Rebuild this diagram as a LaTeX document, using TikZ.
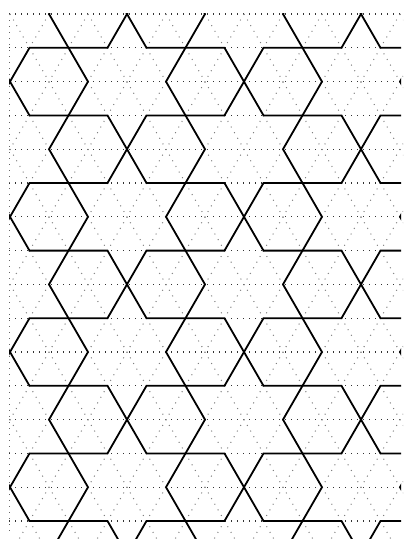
\documentclass[tikz,border=0pt]{standalone}
\begin{document}
\begin{tikzpicture}[x=1pt,y=-1pt,
  hexline/.style={line width=1.8pt,black,line join=miter},
  gridh/.style={line width=1.2pt,black!80,dash pattern=on 1.2pt off 4.8pt},
  gridd/.style={line width=1.0pt,black!50,dash pattern=on 1pt off 5.5pt},
  gridv/.style={line width=1.0pt,black!60,dash pattern=on 1pt off 5pt}]
\useasboundingbox (0,0) rectangle (420,550);
\fill[white] (0,0) rectangle (420,550);
% dotted triangular grid
\begin{scope}
  \clip (8,13) rectangle (403,539);
  \foreach \v in {0,...,15} \draw[gridh] (9,{14+33.8*\v}) -- (403,{14+33.8*\v});
  \draw[gridv] (9,14) -- (9,535);
  \foreach \c in {-18,-16,...,22}
    \draw[gridd] ({10+19.5*(\c-1)},{14-33.8}) -- ({10+19.5*(\c+17)},{14+33.8*17});
  \foreach \c in {0,2,...,38}
    \draw[gridd] ({10+19.5*(\c+1)},{14-33.8}) -- ({10+19.5*(\c-17)},{14+33.8*17});
\end{scope}
% hexagons
\begin{scope}
  \clip (9,13) rectangle (401,538.5);
  \begin{scope}[shift={(10,14)}, x=19.5pt, y=-33.8pt]
    \foreach \v in {0,4,8,12,16}
      \foreach \u in {-8,-4,4,8,16,20}
        \draw[hexline] ({\u-2},{\v}) -- ({\u-1},{\v-1}) -- ({\u+1},{\v-1}) -- ({\u+2},{\v}) -- ({\u+1},{\v+1}) -- ({\u-1},{\v+1}) -- cycle;
    \foreach \v in {2,6,10,14}
      \foreach \u in {-2,2,10,14,22}
        \draw[hexline] ({\u-2},{\v}) -- ({\u-1},{\v-1}) -- ({\u+1},{\v-1}) -- ({\u+2},{\v}) -- ({\u+1},{\v+1}) -- ({\u-1},{\v+1}) -- cycle;
  \end{scope}
\end{scope}
\end{tikzpicture}
\end{document}
